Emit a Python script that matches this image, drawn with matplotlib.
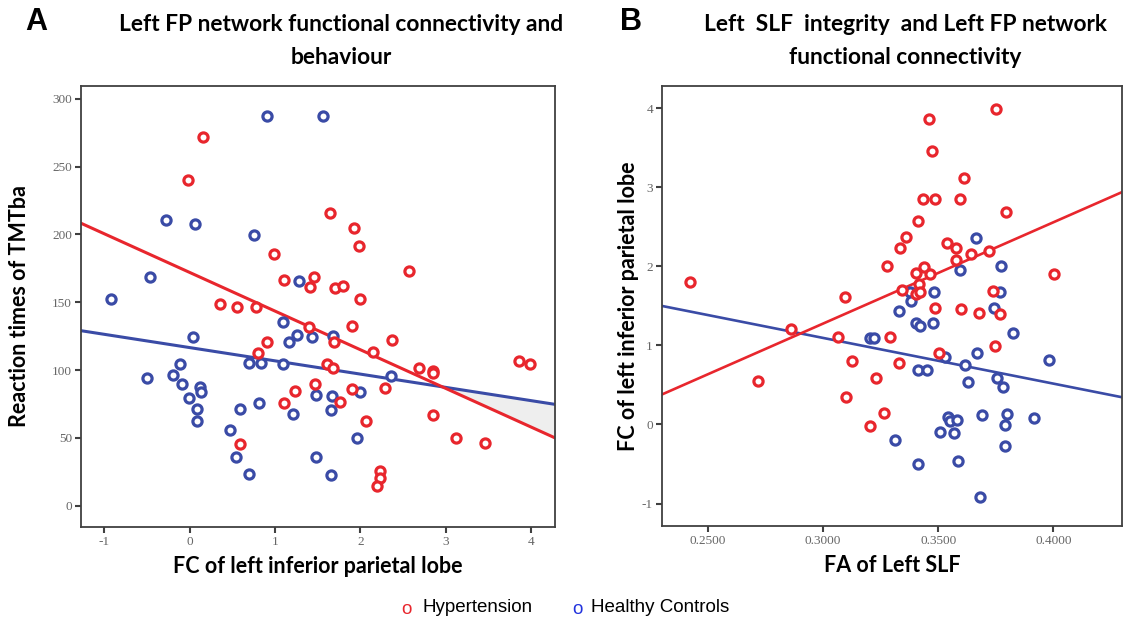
import numpy as np
import matplotlib
matplotlib.use("Agg")
import matplotlib.pyplot as plt

plt.rcParams["axes.unicode_minus"] = False

# ---------------- data ----------------
# Panel A: FC of left inferior parietal lobe vs reaction times of TMTba
a_hyp_x = [0.15, -0.02, 1.64, 0.99, 1.11, 1.46, 1.41, 1.70, 1.80, 0.35, 0.55, 0.78, 1.40, 1.90,
           1.92, 1.98, 2.57, 2.00, 1.69, 0.91, 0.80, 1.61, 1.68, 2.37, 2.15, 2.69, 2.85, 2.85,
           1.47, 1.90, 2.29, 1.23, 1.11, 1.76, 2.07, 2.85, 3.12, 3.46, 3.86, 3.99, 0.59, 2.23,
           2.23, 2.20]
a_hyp_y = [272, 240, 215.6, 185.6, 166.4, 168.4, 161.3, 160.3, 162.3, 148.5, 146.5, 146.5, 132, 132.7,
           204.6, 191.7, 173.3, 152.4, 121, 120.5, 112.4, 104.7, 101.3, 122.4, 113.6, 101.3, 99.3, 97.6,
           89.7, 85.8, 86.6, 84.8, 75.5, 76.7, 62.7, 66.7, 49.7, 46.5, 106.7, 104.7, 45.5, 25.6,
           20.6, 14.7]
a_ctl_x = [0.90, 1.56, -0.28, 0.06, 0.75, -0.46, 1.28, -0.92, 1.09, 1.43, 1.68, 0.04, 1.16, 1.26,
           0.69, 0.84, 1.09, -0.11, -0.20, -0.50, -0.09, 0.12, 0.13, -0.01, 0.09, 0.08, 0.59, 0.81,
           1.21, 1.48, 1.67, 1.66, 0.47, 0.54, 1.48, 0.70, 1.66, 2.36, 2.00, 1.96]
a_ctl_y = [287.6, 287.6, 211, 208, 199.6, 168.4, 165.5, 152.4, 135.5, 124.6, 125.4, 124.6, 120.5, 125.7,
           105.5, 105.5, 104.7, 104.7, 96.6, 94.4, 89.5, 87.8, 83.6, 79.6, 71.5, 62.7, 71.5, 75.5,
           67.4, 81.6, 80.7, 70.6, 55.6, 35.7, 35.7, 23.6, 22.6, 95.6, 83.6, 49.7]
a_fit_hyp = [172.0, -28.5]   # intercept, slope
a_fit_ctl = [116.6, -9.78]
a_xticks = [-1, 0, 1, 2, 3, 4]
a_yticks = [0, 50, 100, 150, 200, 250, 300]

# Panel B: FA of Left SLF vs FC of left inferior parietal lobe
b_hyp_x = [0.2422, 0.3095, 0.2859, 0.3065, 0.3124, 0.2717, 0.3099, 0.3202, 0.3749, 0.3461, 0.3474,
           0.3610, 0.3435, 0.3484, 0.3595, 0.3792, 0.3414, 0.3361, 0.3332, 0.3540, 0.3576, 0.3641,
           0.3721, 0.3577, 0.3278, 0.3438, 0.3402, 0.3463, 0.4004, 0.3417, 0.3343, 0.3402, 0.3422,
           0.3486, 0.3600, 0.3679, 0.3738, 0.3767, 0.3291, 0.3747, 0.3503, 0.3328, 0.3228, 0.3263]
b_hyp_y = [1.80, 1.61, 1.21, 1.11, 0.80, 0.55, 0.35, -0.02, 3.99, 3.86, 3.46,
           3.12, 2.85, 2.85, 2.85, 2.69, 2.57, 2.37, 2.23, 2.29, 2.23, 2.16,
           2.20, 2.08, 2.01, 1.99, 1.92, 1.90, 1.90, 1.78, 1.70, 1.65, 1.67,
           1.47, 1.46, 1.41, 1.69, 1.40, 1.11, 0.99, 0.91, 0.78, 0.59, 0.15]
b_ctl_x = [0.3663, 0.3593, 0.3773, 0.3379, 0.3483, 0.3382, 0.3330, 0.3767, 0.3742, 0.3402, 0.3419,
           0.3477, 0.3823, 0.3202, 0.3219, 0.3530, 0.3670, 0.3618, 0.3980, 0.3411, 0.3453, 0.3628,
           0.3756, 0.3783, 0.3312, 0.3543, 0.3553, 0.3583, 0.3509, 0.3567, 0.3690, 0.3799, 0.3788,
           0.3914, 0.3791, 0.3414, 0.3586, 0.3682]
b_ctl_y = [2.36, 1.96, 2.00, 1.67, 1.67, 1.56, 1.43, 1.68, 1.48, 1.28, 1.24,
           1.29, 1.16, 1.10, 1.10, 0.85, 0.90, 0.75, 0.81, 0.69, 0.69, 0.54,
           0.59, 0.47, -0.20, 0.10, 0.04, 0.06, -0.09, -0.11, 0.12, 0.13, -0.01,
           0.08, -0.27, -0.50, -0.46, -0.92]
b_fit_hyp = [-2.566, 12.81]
b_fit_ctl = [2.829, -5.78]
b_xticks = [0.25, 0.30, 0.35, 0.40]
b_xticklabels = ["0.2500", "0.3000", "0.3500", "0.4000"]
b_yticks = [-1, 0, 1, 2, 3, 4]

legend_labels = ["Hypertension", "Healthy Controls"]

# ---------------- style ----------------
RED = "#E8262D"
BLUE = "#3A4BA6"
SPINE = "#404040"
TICKC = "#666666"
TITLE_FONT = ["Lato", "DejaVu Sans"]
LABEL_FONT = ["Lato", "DejaVu Sans"]
TICK_FONT = ["Liberation Serif", "DejaVu Serif"]

fig = plt.figure(figsize=(11.23, 6.21), dpi=100)
W, H = 1123, 621


def ax_rect(l, t, r, b):
    return [l / W, 1 - b / H, (r - l) / W, (b - t) / H]


axA = fig.add_axes(ax_rect(81, 86, 555, 527))
axB = fig.add_axes(ax_rect(662, 86, 1122, 526))

mk = dict(marker="o", ms=6.6, mew=2.3, mfc="white", ls="none")


def style(ax):
    for s in ax.spines.values():
        s.set_color(SPINE)
        s.set_linewidth(1.3)
    ax.tick_params(direction="out", length=4.5, width=1.5, color=SPINE,
                   labelsize=9.5, labelcolor=TICKC, pad=2)
    for lab in ax.get_xticklabels() + ax.get_yticklabels():
        lab.set_family(TICK_FONT)


# Panel A
xA0, xA1 = -1.274, 4.28
axA.set_xlim(xA0, xA1)
axA.set_ylim(-15.7, 309.5)
xs = np.linspace(xA0, xA1, 200)
yr = a_fit_hyp[0] + a_fit_hyp[1] * xs
yb = a_fit_ctl[0] + a_fit_ctl[1] * xs
axA.fill_between(xs, yr, yb, where=yr < yb, color="#EEEEEE", zorder=1, interpolate=True)
axA.plot(xs, yb, color=BLUE, lw=2.2, zorder=2)
axA.plot(xs, yr, color=RED, lw=2.2, zorder=2)
axA.plot(a_ctl_x, a_ctl_y, mec=BLUE, zorder=3, **mk)
axA.plot(a_hyp_x, a_hyp_y, mec=RED, zorder=4, **mk)
axA.set_xticks(a_xticks)
axA.set_yticks(a_yticks)
style(axA)
axA.set_xlabel("FC of left inferior parietal lobe", fontsize=15.5, fontweight="bold",
               family=LABEL_FONT, labelpad=6)
axA.set_ylabel("Reaction times of TMTba", fontsize=15.5, fontweight="bold",
               family=LABEL_FONT, labelpad=16)

# Panel B
xB0, xB1 = 0.230, 0.4298
axB.set_xlim(xB0, xB1)
axB.set_ylim(-1.284, 4.282)
xs = np.linspace(xB0, xB1, 200)
axB.plot(xs, b_fit_ctl[0] + b_fit_ctl[1] * xs, color=BLUE, lw=1.9, zorder=2)
axB.plot(xs, b_fit_hyp[0] + b_fit_hyp[1] * xs, color=RED, lw=1.9, zorder=2)
axB.plot(b_ctl_x, b_ctl_y, mec=BLUE, zorder=3, **mk)
axB.plot(b_hyp_x, b_hyp_y, mec=RED, zorder=4, **mk)
axB.set_xticks(b_xticks)
axB.set_xticklabels(b_xticklabels)
axB.set_yticks(b_yticks)
style(axB)
axB.set_xlabel("FA of Left SLF", fontsize=15.5, fontweight="bold",
               family=LABEL_FONT, labelpad=6)
axB.set_ylabel("FC of left inferior parietal lobe", fontsize=15.5, fontweight="bold",
               family=LABEL_FONT, labelpad=2)

# Titles and panel letters
fig.text(25 / W, 1 - 22 / H, "A", fontsize=22, fontweight="bold", family=["Liberation Sans"],
         ha="left", va="center")
fig.text(620 / W, 1 - 22 / H, "B", fontsize=22, fontweight="bold", family=["Liberation Sans"],
         ha="left", va="center")
fig.text(341 / W, 1 - 41 / H, "Left FP network functional connectivity and\nbehaviour",
         fontsize=16.4, fontweight="bold", family=TITLE_FONT, ha="center", va="center",
         linespacing=1.75)
fig.text(905 / W, 1 - 41 / H, "Left  SLF  integrity  and Left FP network\nfunctional connectivity",
         fontsize=16.4, fontweight="bold", family=TITLE_FONT, ha="center", va="center",
         linespacing=1.75)

# Legend
LEG_FS = 13.5
fig.text(406 / W, 1 - 609 / H, "o", color=RED, fontsize=LEG_FS, family=["Liberation Sans"],
         ha="center", va="center")
fig.text(423 / W, 1 - 608 / H, legend_labels[0], color="black", fontsize=LEG_FS,
         family=["Liberation Sans"], ha="left", va="center")
fig.text(577 / W, 1 - 609 / H, "o", color="#2233DD", fontsize=LEG_FS, family=["Liberation Sans"],
         ha="center", va="center")
fig.text(591 / W, 1 - 608 / H, legend_labels[1], color="black", fontsize=LEG_FS,
         family=["Liberation Sans"], ha="left", va="center")

fig.savefig("out.png", dpi=100, facecolor="white")
